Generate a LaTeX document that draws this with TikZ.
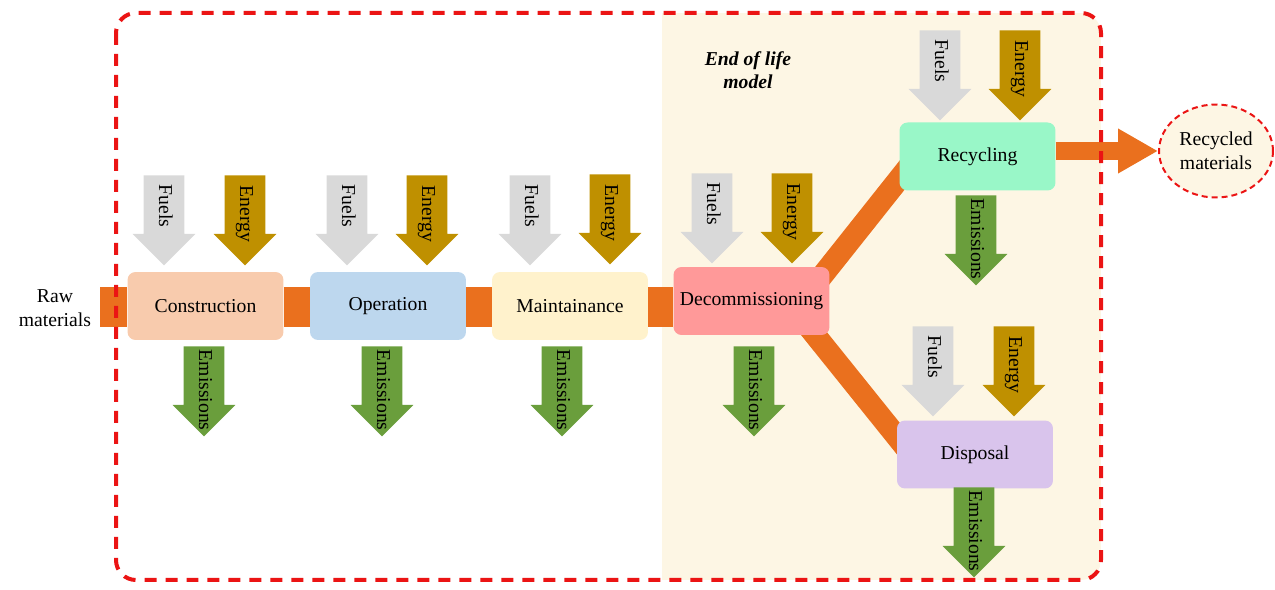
\documentclass[tikz,border=0pt]{standalone}
\usepackage{fontspec}
\setmainfont{Liberation Serif}
\usetikzlibrary{shapes.arrows,shapes.geometric,arrows.meta}

\definecolor{barorange}{RGB}{234,112,30}
\definecolor{framered}{RGB}{235,20,20}
\definecolor{eolfill}{RGB}{253,246,228}
\definecolor{fuelgrey}{RGB}{217,217,217}
\definecolor{energygold}{RGB}{191,144,0}
\definecolor{emisgreen}{RGB}{106,158,60}
\definecolor{conpeach}{RGB}{248,203,173}
\definecolor{opeblue}{RGB}{189,215,238}
\definecolor{maicream}{RGB}{255,242,204}
\definecolor{decpink}{RGB}{255,153,153}
\definecolor{recmint}{RGB}{153,247,200}
\definecolor{dislilac}{RGB}{217,196,236}

% label of a block arrow, allowed to run into the head (optional arg moves it to the tip)
\newcommand{\flowlbl}[2][0.36cm]{\makebox[0pt][c]{\hspace*{#1}#2}}

\tikzset{
  stage/.style={rounded corners=0.16cm, minimum width=3.12cm, minimum height=1.36cm, inner sep=0pt},
  flow/.style={single arrow, rotate=-90, anchor=tail, minimum height=1.8cm,
    text height=0.26cm, text depth=0.06cm, inner xsep=0.12cm, inner ysep=0.24cm,
    single arrow head extend=0.22cm},
  fuel/.style={flow, fill=fuelgrey},
  energy/.style={flow, fill=energygold},
  emis/.style={flow, fill=emisgreen},
  mainbar/.style={draw=barorange, line width=0.8cm},
  band/.style={draw=barorange, line width=0.44cm},
  frame/.style={draw=framered, line width=0.08cm, dash pattern=on 0.24cm off 0.18cm, rounded corners=0.4cm}
}

\begin{document}
\begin{tikzpicture}[x=0.02cm,y=-0.02cm,font=\fontsize{11.2}{13.4}\selectfont]
\useasboundingbox (0,0) rectangle (1275,590);
% end of life area
\begin{scope}
\clip[rounded corners=0.4cm] (116,13) rectangle (1101,580);
\fill[eolfill] (662,13) rectangle (1101,580);
\end{scope}
\node[align=center] (rawmat) at (55,308) {Raw\\materials};
\node[align=center,font=\fontsize{11.2}{13.4}\selectfont\bfseries\itshape] (eol) at (748,70) {End of life\\model};

% connectors behind the boxes
\coordinate (barstart) at (100,307.5);
\coordinate (split) at (795,310);
\coordinate (recin) at (930,140);
\coordinate (disin) at (930,478);
\draw[band] (split) -- (recin);
\draw[band] (split) -- (disin);

% stages
\node[stage,fill=conpeach] (con) at (205.5,306) {Construction};
\node[stage,fill=opeblue] (ope) at (388,306) {Operation};
\node[stage,fill=maicream] (mai) at (570,306) {Maintainance};
\node[stage,fill=decpink] (dec) at (751.5,301) {Decommissioning};
\node[stage,fill=recmint] (rec) at (977.5,156.5) {Recycling};
\node[stage,fill=dislilac] (dis) at (975,454.5) {Disposal};

\draw[mainbar] (barstart) -- (barstart -| con.west);
\draw[mainbar] (con.east |- barstart) -- (ope.west |- barstart);
\draw[mainbar] (ope.east |- barstart) -- (mai.west |- barstart);
\draw[mainbar] (mai.east |- barstart) -- (dec.west |- barstart);

% inputs and outputs (placed by their tails)
\node[fuel] (conF) at (164,175) {\flowlbl[-0.16cm]{Fuels}};
\node[energy] (conE) at (245,175) {\flowlbl[0.16cm]{Energy}};
\node[emis] (conM) at (204,346) {\flowlbl{Emissions}};
\node[fuel] (opeF) at (347,175) {\flowlbl[-0.16cm]{Fuels}};
\node[energy] (opeE) at (427,175) {\flowlbl[0.16cm]{Energy}};
\node[emis] (opeM) at (382,346) {\flowlbl{Emissions}};
\node[fuel] (maiF) at (530,175) {\flowlbl[-0.16cm]{Fuels}};
\node[energy] (maiE) at (610,174) {\flowlbl[0.16cm]{Energy}};
\node[emis] (maiM) at (562,346) {\flowlbl{Emissions}};
\node[fuel] (decF) at (712,173) {\flowlbl[-0.16cm]{Fuels}};
\node[energy] (decE) at (792,173) {\flowlbl[0.16cm]{Energy}};
\node[emis] (decM) at (754,346) {\flowlbl{Emissions}};
\node[fuel] (recF) at (940,30) {\flowlbl[-0.16cm]{Fuels}};
\node[energy] (recE) at (1020,30) {\flowlbl[0.16cm]{Energy}};
\node[emis] (recM) at (976,195) {\flowlbl{Emissions}};
\node[fuel] (disF) at (933,326) {\flowlbl[-0.16cm]{Fuels}};
\node[energy] (disE) at (1014,326) {\flowlbl[0.16cm]{Energy}};
\node[emis] (disM) at (974,487) {\flowlbl{Emissions}};

% recycled output
\node[ellipse,draw=framered,line width=0.04cm,dash pattern=on 0.12cm off 0.08cm,fill=eolfill,
  minimum width=2.28cm,minimum height=1.86cm,inner sep=0pt,align=center] (recmat) at (1216,151) {Recycled\\materials};
\draw[barorange,line width=0.36cm,-{Triangle[length=0.8cm,width=0.84cm]}] (rec.east |- recmat) -- (recmat.west);

\draw[frame] (116,13) rectangle (1101,580);
\end{tikzpicture}
\end{document}
